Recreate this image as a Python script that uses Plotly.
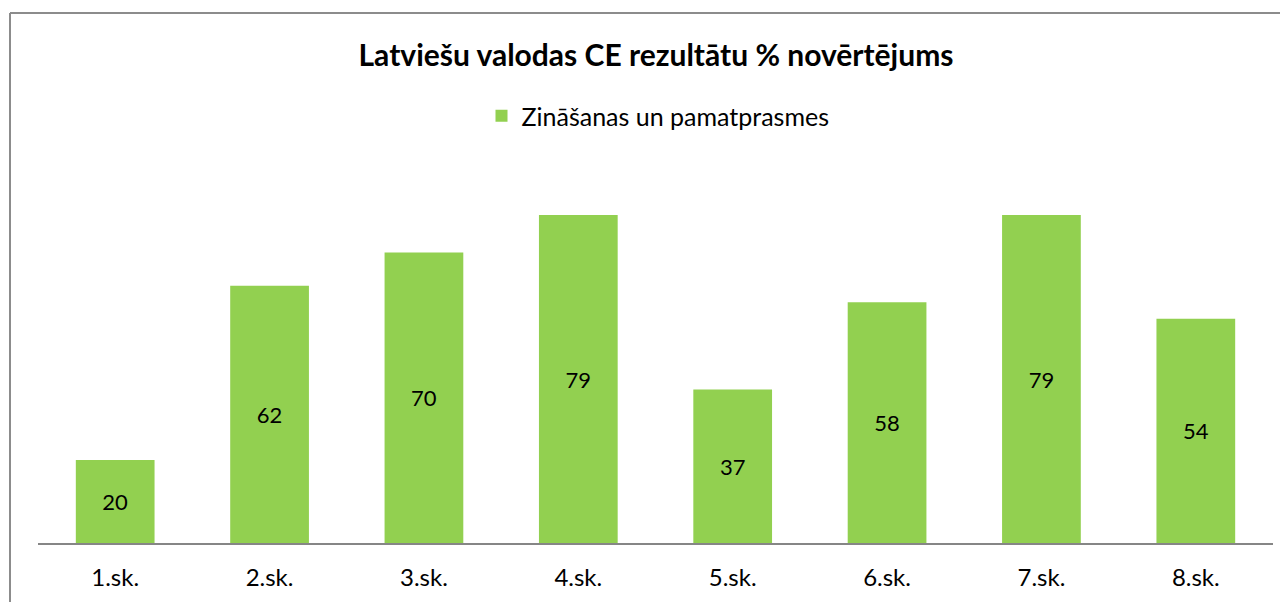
import plotly.graph_objects as go

categories = ["1.sk.", "2.sk.", "3.sk.", "4.sk.", "5.sk.", "6.sk.", "7.sk.", "8.sk."]
values = [20, 62, 70, 79, 37, 58, 79, 54]
series_name = "Zināšanas un pamatprasmes"
title_text = "Latviešu valodas CE rezultātu % novērtējums"

GREEN = "#92D050"
FONT = "Lato"

W, H = 1288, 602
ml, mr, mt, mb = 30, 23, 127, 67
PW, PH = W - ml - mr, H - mt - mb

fig = go.Figure()
fig.add_trace(go.Bar(
    x=categories, y=values, name=series_name,
    marker=dict(color=GREEN, line=dict(width=0)),
    width=0.51,
    text=[str(v) for v in values], textposition="inside",
    insidetextanchor="middle",
    textfont=dict(family=FONT, size=22, color="#000000"),
    showlegend=True,
))

fig.update_layout(
    width=W, height=H,
    margin=dict(l=ml, r=mr, t=mt, b=mb, autoexpand=False),
    paper_bgcolor="white", plot_bgcolor="white",
    title=dict(text="<b>" + title_text + "</b>", x=648 / W, xanchor="center",
               xref="container",
               y=1 - 47 / H, yanchor="middle",
               font=dict(family=FONT, size=30, color="#000000")),
    legend=dict(orientation="h", x=650 / W, xanchor="center", xref="container",
                y=1 - 108 / H, yanchor="middle", yref="container",
                font=dict(family=FONT, size=25, color="#000000"),
                itemsizing="constant"),
    xaxis=dict(showline=True, linecolor="#868686", linewidth=2,
               ticks="", tickfont=dict(family=FONT, size=24, color="#000000"),
               ticklabelstandoff=12,
               showgrid=False, zeroline=False),
    yaxis=dict(range=[0, 98.3], visible=False, showgrid=False, zeroline=False),
    font=dict(family=FONT),
)

# chart frame (left and top edges visible in reference)
xl = -(ml - 2) / PW
yt = 1 + (mt - 5) / PH
fig.add_shape(type="line", xref="paper", yref="paper",
              x0=xl, x1=xl, y0=-(mb + 5) / PH, y1=yt,
              line=dict(color="#8c8c8c", width=2))
fig.add_shape(type="line", xref="paper", yref="paper",
              x0=xl, x1=1 + (mr + 5) / PW, y0=yt, y1=yt,
              line=dict(color="#8c8c8c", width=2))

fig.write_html("out.html")
